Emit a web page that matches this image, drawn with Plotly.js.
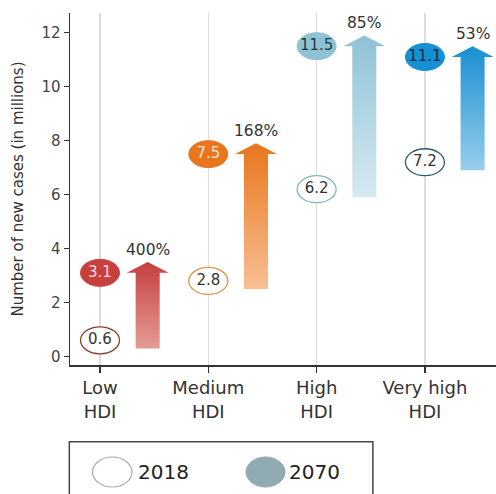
<!DOCTYPE html>
<html>
<head>
<meta charset="utf-8">
<script src="https://cdn.plot.ly/plotly-3.0.1.min.js"></script>
<style>html,body{margin:0;padding:0;background:#fff;}#chart{width:496px;height:494px;}</style>
</head>
<body>
<div id="chart"></div>
<script>
// ---- data ----
const categories = ['Low<br>HDI', 'Medium<br>HDI', 'High<br>HDI', 'Very high<br>HDI'];
const cases2018 = [0.6, 2.8, 6.2, 7.2];
const cases2070 = [3.1, 7.5, 11.5, 11.1];
const pctIncrease = ['400%', '168%', '85%', '53%'];
const years = ['2018', '2070'];
const yTicks = [0, 2, 4, 6, 8, 10, 12];

// ---- styles ----
const FONT = 'DejaVu Sans';
const fillColors = ['#c8403e', '#e8761f', '#8fc3d3', '#1590d2'];
const fillText = ['#f8dcd6', '#fde4cc', '#1c3c44', '#0c2a48'];
const outlineColors = ['#8a3c30', '#e29548', '#80b4c6', '#2e5c6c'];
const arrowTop = ['#c5403f', '#e8761c', '#8ec2d5', '#1a8fd0'];
const arrowBottom = ['#e59c94', '#f8bf93', '#d6eaf1', '#97cdec'];

const ARROW_OFF = 0.44, SHAFT_HW = 0.111, HEAD_HW = 0.194, HEAD_H = 0.40, BASE_PAD = 0.3;
const ELL_RX = 0.18, ELL_RY = 0.5;

const traces = [];
const shapes = [];
const annotations = [];

categories.forEach((c, i) => {
  const cx = i + ARROW_OFF;
  const yb = cases2018[i] - BASE_PAD;
  const yh = cases2070[i];
  const yt = cases2070[i] + HEAD_H;
  traces.push({
    type: 'scatter', mode: 'lines', fill: 'toself',
    x: [cx - SHAFT_HW, cx - SHAFT_HW, cx - HEAD_HW, cx, cx + HEAD_HW, cx + SHAFT_HW, cx + SHAFT_HW, cx - SHAFT_HW],
    y: [yb, yh, yh, yt, yh, yh, yb, yb],
    line: {width: 0, color: arrowTop[i]},
    fillcolor: arrowTop[i],
    fillgradient: {type: 'vertical', colorscale: [[0, arrowBottom[i]], [1, arrowTop[i]]]},
    hoverinfo: 'skip', showlegend: false
  });
  shapes.push({type: 'circle', xref: 'x', yref: 'y', layer: 'between',
    x0: i - ELL_RX, x1: i + ELL_RX, y0: cases2018[i] - ELL_RY, y1: cases2018[i] + ELL_RY,
    fillcolor: '#ffffff', line: {color: outlineColors[i], width: 1.3}});
  shapes.push({type: 'circle', xref: 'x', yref: 'y', layer: 'between',
    x0: i - ELL_RX, x1: i + ELL_RX, y0: cases2070[i] - ELL_RY, y1: cases2070[i] + ELL_RY,
    fillcolor: fillColors[i], line: {color: fillColors[i], width: 1}});
  annotations.push({x: cx, y: yt, xref: 'x', yref: 'y', text: pctIncrease[i], showarrow: false,
    yanchor: 'bottom', yshift: 1, font: {family: FONT, size: 15.5, color: '#333'}});
});

traces.push({type: 'scatter', mode: 'text', x: categories.map((c, i) => i), y: cases2018,
  text: cases2018.map(v => v.toFixed(1)), textposition: 'middle center',
  textfont: {family: FONT, size: 15, color: '#333'}, hoverinfo: 'skip', showlegend: false, cliponaxis: false});
traces.push({type: 'scatter', mode: 'text', x: categories.map((c, i) => i), y: cases2070,
  text: cases2070.map(v => v.toFixed(1)), textposition: 'middle center',
  textfont: {family: FONT, size: 15, color: fillText}, hoverinfo: 'skip', showlegend: false, cliponaxis: false});

// custom legend
shapes.push({type: 'rect', xref: 'paper', yref: 'paper', x0: -0.0016, x1: 0.711, y0: -0.40, y1: -0.218,
  line: {color: '#444', width: 1.5}, fillcolor: 'rgba(0,0,0,0)'});
shapes.push({type: 'circle', xref: 'paper', yref: 'paper', x0: 0.0528, x1: 0.1455, y0: -0.3466, y1: -0.2614,
  line: {color: '#aaaaaa', width: 1.2}, fillcolor: '#ffffff'});
shapes.push({type: 'circle', xref: 'paper', yref: 'paper', x0: 0.4131, x1: 0.5047, y0: -0.3466, y1: -0.2614,
  line: {color: '#90acb2', width: 1}, fillcolor: '#90acb2'});
annotations.push({xref: 'paper', yref: 'paper', x: 0.155, y: -0.305, xanchor: 'left', yanchor: 'middle',
  text: years[0], showarrow: false, font: {family: FONT, size: 20, color: '#222'}});
annotations.push({xref: 'paper', yref: 'paper', x: 0.5087, y: -0.305, xanchor: 'left', yanchor: 'middle',
  text: years[1], showarrow: false, font: {family: FONT, size: 20, color: '#222'}});

const layout = {
  width: 496, height: 494,
  margin: {l: 70, r: 0, t: 13, b: 129, pad: 0},
  paper_bgcolor: '#ffffff', plot_bgcolor: '#ffffff',
  showlegend: false,
  xaxis: {
    range: [-0.277, 3.656], tickmode: 'array', tickvals: categories.map((c, i) => i), ticktext: categories,
    showgrid: true, gridcolor: '#dddddd', gridwidth: 1.5, zeroline: false,
    showline: true, linecolor: '#333', linewidth: 1.5,
    ticks: 'outside', ticklen: 6, tickwidth: 1.5, tickcolor: '#333',
    tickfont: {family: FONT, size: 18, color: '#333'}, fixedrange: true
  },
  yaxis: {
    range: [-0.315, 12.73], tickmode: 'array', tickvals: yTicks,
    showgrid: false, zeroline: false,
    showline: true, linecolor: '#333', linewidth: 1.5,
    ticks: 'outside', ticklen: 5, tickwidth: 1.5, tickcolor: '#333',
    tickfont: {family: FONT, size: 15, color: '#444'},
    title: {text: 'Number of new cases (in millions)', font: {family: FONT, size: 15, color: '#333'}, standoff: 14},
    fixedrange: true
  },
  shapes: shapes,
  annotations: annotations
};

Plotly.newPlot('chart', traces, layout, {displayModeBar: false, staticPlot: true});
</script>
</body>
</html>
